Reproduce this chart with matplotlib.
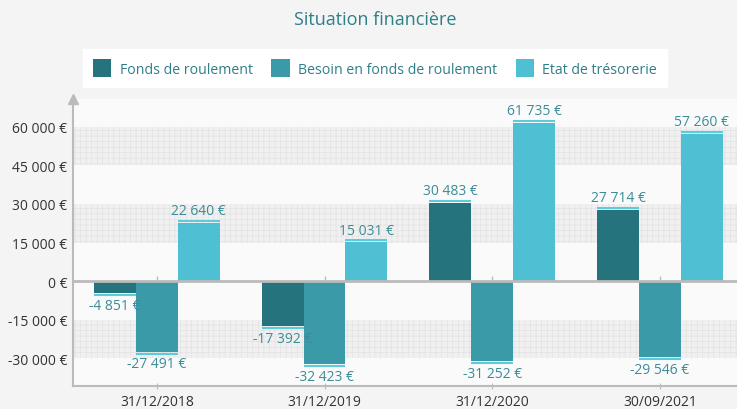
import numpy as np
import matplotlib.pyplot as plt

# data
dates = ["31/12/2018", "31/12/2019", "31/12/2020", "30/09/2021"]
series_names = ["Fonds de roulement", "Besoin en fonds de roulement", "Etat de trésorerie"]
fonds_roulement = [-4851, -17392, 30483, 27714]
besoin_fonds = [-27491, -32423, -31252, -29546]
tresorerie = [22640, 15031, 61735, 57260]
yticks = [-30000, -15000, 0, 15000, 30000, 45000, 60000]

colors = ["#25737d", "#3a9aa8", "#4fc0d3"]
label_color = "#3b8c97"

plt.rcParams['font.family'] = ['Open Sans', 'DejaVu Sans']
plt.rcParams['hatch.linewidth'] = 0.4

def euro(v):
    #french style thousands separator
    s = f"{abs(v):,}".replace(",", " ")
    return ("-" if v < 0 else "") + s + " €"

fig = plt.figure(figsize=(7.37, 4.10), dpi=100, facecolor="#f4f4f4")
ax = fig.add_axes([73 / 737, 1 - 387 / 410, 1 - 73 / 737, (387 - 100) / 410])
ax.set_facecolor("#fafafa")

ymin, ymax = -40909, 70909
ax.set_ylim(ymin, ymax)
ax.set_xlim(-0.5, 3.46)

# hatched bands
for lo, hi in [(45000, 60000), (15000, 30000), (-30000, -15000)]:
    ax.axhspan(lo, hi, facecolor="#f0f0f0", edgecolor="#e0e0e0", hatch="+++", linewidth=0, zorder=0)

x = np.arange(len(dates))
width = 0.25
step = 780  # gap between bar end and highlight line
for i, (vals, name) in enumerate(zip([fonds_roulement, besoin_fonds, tresorerie], series_names)):
    pos = x + (i - 1) * width
    ax.bar(pos, vals, width, color=colors[i], label=name, zorder=3)
    for p, v in zip(pos, vals):
        sgn = 1 if v >= 0 else -1
        ax.hlines(v + sgn * step, p - width / 2, p + width / 2, color="#5ccbdc", lw=1.5, zorder=3)
        ax.text(p, v + sgn * 1900, euro(v), ha="center", va="bottom" if v >= 0 else "top",
                color=label_color, fontsize=10, zorder=4)

# axes lines
ax.axhline(0, color="#bbbbbb", lw=2, zorder=4)
for s in ["top", "right"]:
    ax.spines[s].set_visible(False)
ax.spines["left"].set_color("#bbbbbb")
ax.spines["bottom"].set_color("#bbbbbb")
ax.spines["left"].set_linewidth(1.5)
ax.spines["bottom"].set_linewidth(1.5)
ax.plot(-0.5, ymax, marker="^", color="#bbbbbb", markersize=7, clip_on=False, zorder=5)
ax.plot(x, np.zeros(len(x)), marker="|", color="#bbbbbb", markersize=7, lw=0, zorder=2)

ax.set_yticks(yticks)
ax.set_yticklabels([euro(v) for v in yticks], color="#333333", fontsize=10)
ax.set_xticks(x)
ax.set_xticklabels(dates, color="#333333", fontsize=10)
ax.tick_params(axis="y", length=0, pad=4)
ax.tick_params(axis="x", length=5, color="#bbbbbb", direction="inout")

fig.text(375 / 737, 1 - 20 / 410, "Situation financière", ha="center", va="center",
         color="#2f7f88", fontsize=13)
fig.legend(loc="center", bbox_to_anchor=(375 / 737, 1 - 69 / 410), ncol=3, frameon=True,
           fancybox=False, edgecolor="white", facecolor="white", framealpha=1,
           fontsize=10.2, labelcolor="#2f7f88", handlelength=1.3, handleheight=1.6,
           handletextpad=0.6, columnspacing=1.3, borderpad=0.7)

plt.savefig("out.png", dpi=100, facecolor=fig.get_facecolor())
